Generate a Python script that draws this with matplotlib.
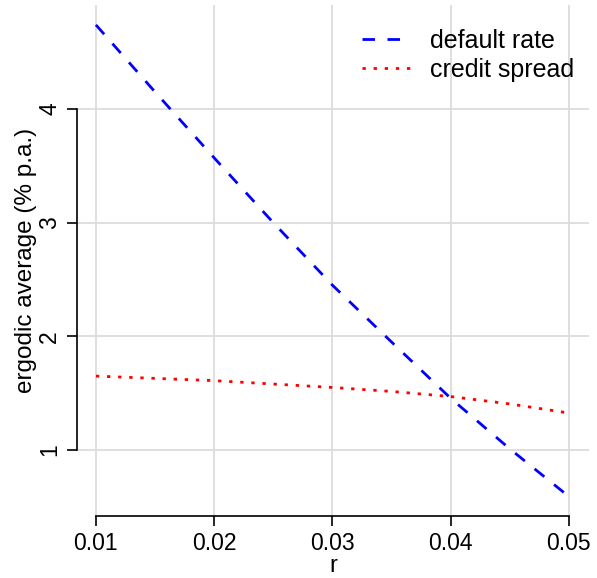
import matplotlib
matplotlib.use("Agg")
import matplotlib.pyplot as plt

r = [0.010, 0.015, 0.020, 0.025, 0.030, 0.035, 0.040, 0.045, 0.050]
default_rate = [4.74, 4.15, 3.57, 3.00, 2.45, 1.95, 1.455, 1.01, 0.59]
credit_spread = [1.65, 1.63, 1.61, 1.58, 1.55, 1.515, 1.47, 1.405, 1.325]
xticks = [0.01, 0.02, 0.03, 0.04, 0.05]
xtick_labels = ["0.01", "0.02", "0.03", "0.04", "0.05"]
yticks = [1, 2, 3, 4]
ytick_labels = ["1", "2", "3", "4"]

plt.rcParams['font.family'] = ['Liberation Sans', 'DejaVu Sans']

fig = plt.figure(figsize=(5.97, 5.78), dpi=100)
ax = fig.add_axes([77/597, 1-516/578, 512/597, 511/578])

ax.plot(r, default_rate, color='#0000ff', lw=2.0, linestyle=(0, (4.5, 4.5)),
        label='default rate', dash_capstyle='butt')
ax.plot(r, credit_spread, color='#ff0000', lw=2.0, linestyle=(0, (1.2, 2.8)),
        label='credit spread', dash_capstyle='butt')

ax.set_xlim(0.0084, 0.0517)
ax.set_ylim(0.419, 4.915)
ax.set_xticks(xticks)
ax.set_xticklabels(xtick_labels)
ax.set_yticks(yticks)
ax.set_yticklabels(ytick_labels, rotation=90, va='center')

ax.grid(True, color='#dcdcdc', lw=1.3)
ax.set_axisbelow(True)
for s in ['top', 'right']:
    ax.spines[s].set_visible(False)
ax.spines['left'].set_bounds(1, 4)
ax.spines['bottom'].set_bounds(0.01, 0.05)
for s in ['left', 'bottom']:
    ax.spines[s].set_linewidth(1.2)
ax.tick_params(axis='both', length=7.5, width=1.2, labelsize=16.5, pad=4)

ax.set_xlabel('r', fontsize=17, labelpad=0)
ax.set_ylabel('ergodic average (% p.a.)', fontsize=17.5, labelpad=1)

leg = ax.legend(loc='upper left', bbox_to_anchor=(0.557, 0.953), frameon=False,
                fontsize=18, handlelength=1.9, handletextpad=0.8, borderpad=0,
                borderaxespad=0, labelspacing=0.18)

fig.savefig('out.png', dpi=100)
